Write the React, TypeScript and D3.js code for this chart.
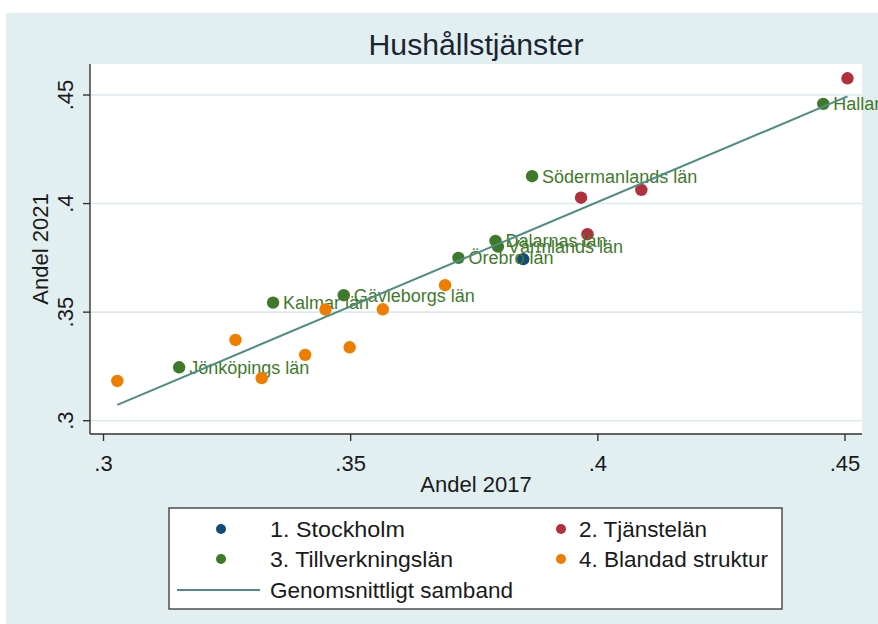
import React from "react";
import * as d3 from "d3";

// Hushållstjänster: andel 2017 vs andel 2021, per län och grupp
const stockholmX = [0.3849];
const stockholmY = [0.3744];

const tjansteX = [0.4505, 0.3966, 0.4088, 0.3979];
const tjansteY = [0.4577, 0.4027, 0.4063, 0.3859];

const tillverkningNames = [
  "Jönköpings län",
  "Kalmar län",
  "Gävleborgs län",
  "Örebro län",
  "Hallands län",
  "Södermanlands län",
  "Dalarnas län",
  "Värmlands län",
];
const tillverkningX = [0.3153, 0.3343, 0.3486, 0.3718, 0.4456, 0.3867, 0.3793, 0.3798];
const tillverkningY = [0.3246, 0.3544, 0.3578, 0.375, 0.4459, 0.4126, 0.3828, 0.3802];

const blandadX = [0.3028, 0.3267, 0.332, 0.3408, 0.3449, 0.3498, 0.3565, 0.3691];
const blandadY = [0.3183, 0.3372, 0.3196, 0.3303, 0.3512, 0.3338, 0.3513, 0.3624];

const tickValues = [0.3, 0.35, 0.4, 0.45];
const tickLabels = [".3", ".35", ".4", ".45"];

const legendLabels = [
  "1. Stockholm",
  "2. Tjänstelän",
  "3. Tillverkningslän",
  "4. Blandad struktur",
  "Genomsnittligt samband",
];

const colors = {
  blue: "#124a78",
  red: "#b0303b",
  green: "#3f7a2b",
  orange: "#ef7d00",
  line: "#4f8d83",
  bg: "#e2eff0",
  grid: "#dde9ee",
};

const font = "'Liberation Sans', Arial, sans-serif";

export default function App() {
  const width = 878;
  const height = 624;
  const plot = { left: 90, right: 862, top: 64, bottom: 434 };

  const x = d3.scaleLinear().domain([0.3, 0.45]).range([103.5, 845]);
  const y = d3.scaleLinear().domain([0.3, 0.45]).range([420.7, 95]);

  // linear fit over all counties
  const allX = [...stockholmX, ...tjansteX, ...tillverkningX, ...blandadX];
  const allY = [...stockholmY, ...tjansteY, ...tillverkningY, ...blandadY];
  const mx = d3.mean(allX) as number;
  const my = d3.mean(allY) as number;
  const sxy = d3.sum(allX.map((v, i) => (v - mx) * (allY[i] - my)));
  const sxx = d3.sum(allX.map((v) => (v - mx) ** 2));
  const slope = sxy / sxx;
  const intercept = my - slope * mx;
  const [x0, x1] = d3.extent(allX) as [number, number];
  const fitLine = d3
    .line<number>()
    .x((d) => x(d))
    .y((d) => y(intercept + slope * d))([x0, x1]);

  const dots = (xs: number[], ys: number[], fill: string, key: string) =>
    xs.map((v, i) => (
      <circle key={key + i} cx={x(v)} cy={y(ys[i])} r={6.2} fill={fill} />
    ));

  const legendRows = [
    { label: legendLabels[0], color: colors.blue, lx: 221, tx: 270, ty: 529, w: 135 },
    { label: legendLabels[1], color: colors.red, lx: 561, tx: 579, ty: 529, w: 128 },
    { label: legendLabels[2], color: colors.green, lx: 221, tx: 270, ty: 559, w: 183 },
    { label: legendLabels[3], color: colors.orange, lx: 561, tx: 579, ty: 559, w: 189 },
  ];

  return (
    <svg
      width={width}
      height={height}
      style={{ position: "absolute", left: 0, top: 0, background: "#fff" }}
      fontFamily={font}
    >
      <rect x={6} y={13} width={width - 6} height={height - 13} fill={colors.bg} />
      <rect
        x={plot.left}
        y={plot.top}
        width={plot.right - plot.left}
        height={plot.bottom - plot.top}
        fill="#fff"
      />

      {/* gridlines */}
      {tickValues.map((t) => (
        <line
          key={"g" + t}
          x1={plot.left}
          x2={plot.right}
          y1={y(t)}
          y2={y(t)}
          stroke={colors.grid}
          strokeWidth={1.6}
        />
      ))}

      {/* title */}
      <text x={476} y={55} textAnchor="middle" fontSize={30} fill="#1c2433" textLength={215} lengthAdjust="spacingAndGlyphs">
        Hushållstjänster
      </text>

      {/* axes */}
      <line x1={plot.left} x2={plot.left} y1={plot.top} y2={plot.bottom} stroke="#333" strokeWidth={1.4} />
      <line x1={plot.left} x2={plot.right} y1={plot.bottom} y2={plot.bottom} stroke="#333" strokeWidth={1.4} />
      {tickValues.map((t, i) => (
        <g key={"xt" + t}>
          <line x1={x(t)} x2={x(t)} y1={plot.bottom} y2={plot.bottom + 7} stroke="#333" strokeWidth={1.4} />
          <text x={x(t)} y={471} textAnchor="middle" fontSize={22} fill="#1a1a1a">
            {tickLabels[i]}
          </text>
        </g>
      ))}
      {tickValues.map((t, i) => (
        <g key={"yt" + t}>
          <line x1={plot.left - 7} x2={plot.left} y1={y(t)} y2={y(t)} stroke="#333" strokeWidth={1.4} />
          <text
            transform={`translate(73,${y(t)}) rotate(-90)`}
            textAnchor="middle"
            fontSize={22}
            fill="#1a1a1a"
          >
            {tickLabels[i]}
          </text>
        </g>
      ))}
      <text x={476} y={492} textAnchor="middle" fontSize={22} fill="#1a1a1a">
        Andel 2017
      </text>
      <text transform="translate(48,249) rotate(-90)" textAnchor="middle" fontSize={22} fill="#1a1a1a">
        Andel 2021
      </text>

      {/* points */}
      {dots(stockholmX, stockholmY, colors.blue, "s")}
      {dots(tjansteX, tjansteY, colors.red, "t")}
      {dots(tillverkningX, tillverkningY, colors.green, "v")}
      {tillverkningX.map((v, i) => (
        <text
          key={"lab" + i}
          x={x(v) + 10}
          y={y(tillverkningY[i])}
          dy="0.36em"
          fontSize={18}
          fill={colors.green}
        >
          {tillverkningNames[i]}
        </text>
      ))}
      {dots(blandadX, blandadY, colors.orange, "b")}
      <path d={fitLine ?? ""} fill="none" stroke={colors.line} strokeWidth={2} />

      {/* legend */}
      <rect x={169} y={508} width={613} height={101} fill="#fff" stroke="#333" strokeWidth={1.3} />
      {legendRows.map((r) => (
        <g key={r.label}>
          <circle cx={r.lx} cy={r.ty} r={5} fill={r.color} />
          <text x={r.tx} y={r.ty} dy="0.36em" fontSize={22} fill="#1a1a1a" textLength={r.w} lengthAdjust="spacingAndGlyphs">
            {r.label}
          </text>
        </g>
      ))}
      <line x1={177} x2={260} y1={590} y2={590} stroke={colors.line} strokeWidth={2} />
      <text x={270} y={590} dy="0.36em" fontSize={22} fill="#1a1a1a" textLength={243} lengthAdjust="spacingAndGlyphs">
        {legendLabels[4]}
      </text>
    </svg>
  );
}
